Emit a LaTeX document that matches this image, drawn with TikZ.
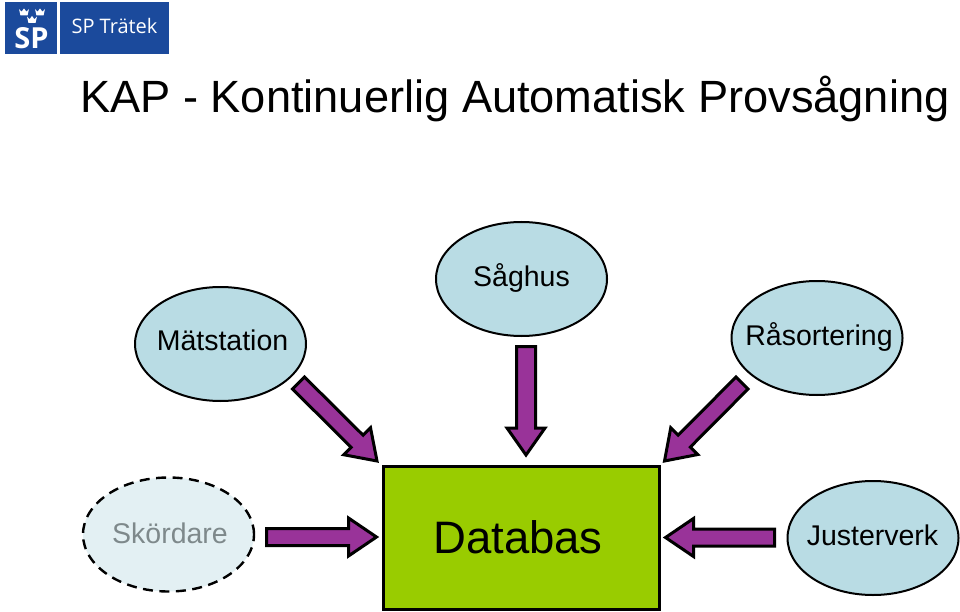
\documentclass[tikz,border=0pt]{standalone}
\usepackage{fontspec}
\setmainfont{Liberation Sans}
\newfontfamily\logofont{Open Sans}
\usetikzlibrary{calc,shapes.geometric}
\definecolor{lblue}{HTML}{B9DCE4}
\definecolor{pale}{HTML}{E3F0F3}
\definecolor{dimtext}{HTML}{7E898B}
\definecolor{grn}{HTML}{99CC00}
\definecolor{purp}{HTML}{993399}
\definecolor{logoblue}{HTML}{1B4A9C}
\tikzset{
  x=1pt,y=-1pt,
  station/.style={ellipse,draw=black,line width=2pt,fill=lblue,minimum width=171pt,minimum height=114pt,inner sep=0pt},
  label/.style={font=\fontsize{28.5}{30}\selectfont,anchor=base,inner sep=0pt},
  dbbox/.style={draw=black,line width=3pt,fill=grn,inner sep=0pt},
  blockarrow/.style={draw=black,line width=3pt,fill=purp,line join=miter,miter limit=6},
  logobox/.style={fill=logoblue,inner sep=0pt},
  crown/.style={fill=white,draw=none}
}
% tail, tip, head length, tail half width, head half width
\newcommand{\blockarr}[5]{%
  \coordinate (bb) at ($(#2)!#3pt!(#1)$);
  \draw[blockarrow]
    ($(#1)!#4pt!90:(#2)$) -- ($(bb)!#4pt!90:(#2)$) -- ($(bb)!#5pt!90:(#2)$) -- (#2)
    -- ($(bb)!#5pt!-90:(#2)$) -- ($(bb)!#4pt!-90:(#2)$) -- ($(#1)!#4pt!-90:(#2)$) -- cycle;
}
\newcommand{\crownat}[3]{%
  \fill[crown] (#1-#3*5,#2-#3*3.5) -- (#1-#3*2.4,#2-#3*0.8) -- (#1,#2-#3*4) -- (#1+#3*2.4,#2-#3*0.8) -- (#1+#3*5,#2-#3*3.5) -- (#1+#3*3.6,#2+#3*2.8) -- (#1-#3*3.6,#2+#3*2.8) -- cycle;
}
\begin{document}
\begin{tikzpicture}
\useasboundingbox (0,0) rectangle (960,612);
\fill[white] (0,0) rectangle (960,612);
% logo
\node[logobox,minimum width=52pt,minimum height=52pt,anchor=north west] (logoa) at (5,2) {};
\node[logobox,minimum width=109pt,minimum height=52pt,anchor=north west] (logob) at (60,2) {};
\crownat{24}{12.5}{1}
\crownat{40}{12.5}{1}
\crownat{32}{20}{1}
\node[inner sep=0pt,text=white,anchor=base] (logosp) at (31.5,49) {\logofont\fontsize{29}{29}\selectfont\bfseries SP};
\node[inner sep=0pt,text=white,anchor=base] (logotxt) at (114.5,34) {\logofont\fontsize{20}{22}\selectfont SP Trätek};
% title
\node[inner sep=0pt,anchor=base west] (title) at (80,113) {\fontsize{45.2}{47}\selectfont KAP - Kontinuerlig Automatisk Provsågning};
% nodes
\node[station] (mat) at (220.5,344) {};
\node[station] (sag) at (521.5,279) {};
\node[station] (ras) at (817,338) {};
\node[station] (jus) at (873,538) {};
\node[station,fill=pale,dashed,dash pattern=on 10pt off 6.5pt,line width=2.4pt] (sko) at (168.5,534.5) {};
\node[dbbox,minimum width=276pt,minimum height=143pt,anchor=north west] (db) at (382,465) {};
\node[label] (matt) at (222.5,350) {Mätstation};
\node[label] (sagt) at (521.5,286) {Såghus};
\node[label] (rast) at (819,345) {Råsortering};
\node[label] (just) at (872.5,545) {Justerverk};
\node[label,text=dimtext] (skot) at (170,543) {Skördare};
\node[label,font=\fontsize{45.5}{48}\selectfont] (dbt) at (518,553) {Databas};
% arrows
\coordinate (a1) at (298.5,383);  \coordinate (a2) at (377,461);
\blockarr{a1}{a2}{28}{8.5}{19}
\coordinate (b1) at (526,346.5);  \coordinate (b2) at (526,455);
\blockarr{b1}{b2}{27}{9.5}{19}
\coordinate (c1) at (266.5,537);  \coordinate (c2) at (376.5,537);
\blockarr{c1}{c2}{28}{8.5}{19}
\coordinate (d1) at (774.5,537.5);  \coordinate (d2) at (665.5,537.5);
\blockarr{d1}{d2}{28}{8.5}{19}
\coordinate (e1) at (742,383);  \coordinate (e2) at (664.5,461);
\blockarr{e1}{e2}{28}{8.5}{19}
\end{tikzpicture}
\end{document}
